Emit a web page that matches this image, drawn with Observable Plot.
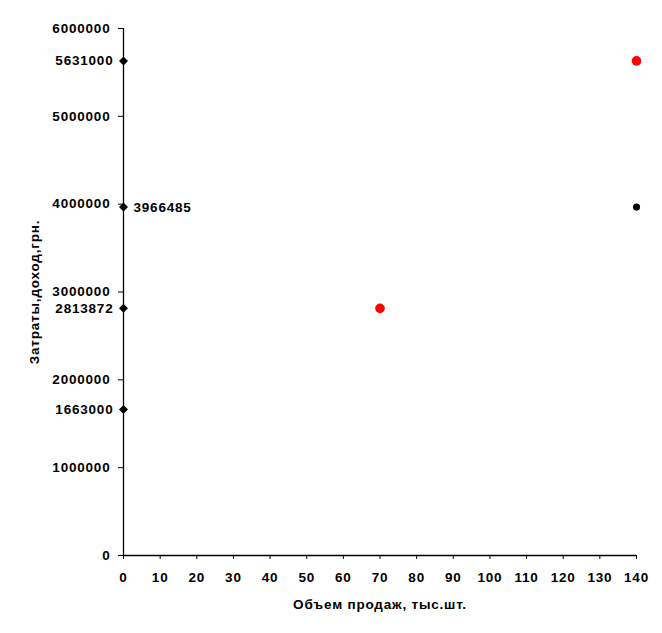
<!DOCTYPE html>
<html>
<head>
<meta charset="utf-8">
<script src="https://cdn.jsdelivr.net/npm/d3@7"></script>
<script src="https://cdn.jsdelivr.net/npm/@observablehq/plot@0.6"></script>
<style>
  html, body { margin: 0; padding: 0; background: #fff; }
</style>
</head>
<body>
<div id="chart"></div>
<script>
// Data
const levelValues = [5631000, 3966485, 2813872, 1663000];   // marked on the Y axis (x = 0)
const blackX = [140];
const blackY = [3966485];
const redX = [70, 140];
const redY = [2813872, 5631000];
const xTicks = [0, 10, 20, 30, 40, 50, 60, 70, 80, 90, 100, 110, 120, 130, 140];
const yTicks = [0, 1000000, 2000000, 3000000, 4000000, 5000000, 6000000];
const xTitle = "Объем продаж, тыс.шт.";
const yTitle = "Затраты,доход,грн.";
const rightLabelValue = 3966485;

const levelPoints = levelValues.map(v => ({x: 0, y: v}));
const blackPoints = blackX.map((x, i) => ({x, y: blackY[i]}));
const redPoints = redX.map((x, i) => ({x, y: redY[i]}));

const font = "'Liberation Sans', Arial, sans-serif";

const chart = Plot.plot({
  width: 662,
  height: 633,
  marginLeft: 123,
  marginRight: 26,
  marginTop: 28,
  marginBottom: 78,
  style: {fontFamily: font, fontSize: "13.5px", fontWeight: "bold", color: "#000", background: "#fff", letterSpacing: "0.8px"},
  x: {domain: [0, 140]},
  y: {domain: [0, 6000000]},
  marks: [
    Plot.axisY({ticks: yTicks, tickSize: 5, tickPadding: 8, tickFormat: d => String(d),
      label: yTitle, labelAnchor: "center", labelArrow: "none", labelOffset: 94, stroke: "#000"}),
    Plot.axisX({ticks: xTicks, tickSize: 4, tickPadding: 13, tickFormat: d => String(d),
      label: xTitle, labelAnchor: "center", labelArrow: "none", labelOffset: 53, stroke: "#000"}),
    Plot.ruleX([0], {stroke: "#000", strokeWidth: 1.3}),
    Plot.ruleY([0], {stroke: "#000", strokeWidth: 1.3}),
    Plot.dot(levelPoints, {x: "x", y: "y", symbol: "square", rotate: 45, r: 3.6, fill: "#000", stroke: "none"}),
    Plot.dot(blackPoints, {x: "x", y: "y", r: 3.6, fill: "#000", stroke: "none"}),
    Plot.dot(redPoints, {x: "x", y: "y", r: 4.8, fill: "#ff0000", stroke: "none"}),
    Plot.text(levelPoints.filter(d => d.y !== rightLabelValue), {x: "x", y: "y", text: d => String(d.y),
      textAnchor: "end", dx: -10, fill: "#000"}),
    Plot.text(levelPoints.filter(d => d.y === rightLabelValue), {x: "x", y: "y", text: d => String(d.y),
      textAnchor: "start", dx: 10, dy: 1, fill: "#000"})
  ]
});
document.getElementById("chart").appendChild(chart);
</script>
</body>
</html>
